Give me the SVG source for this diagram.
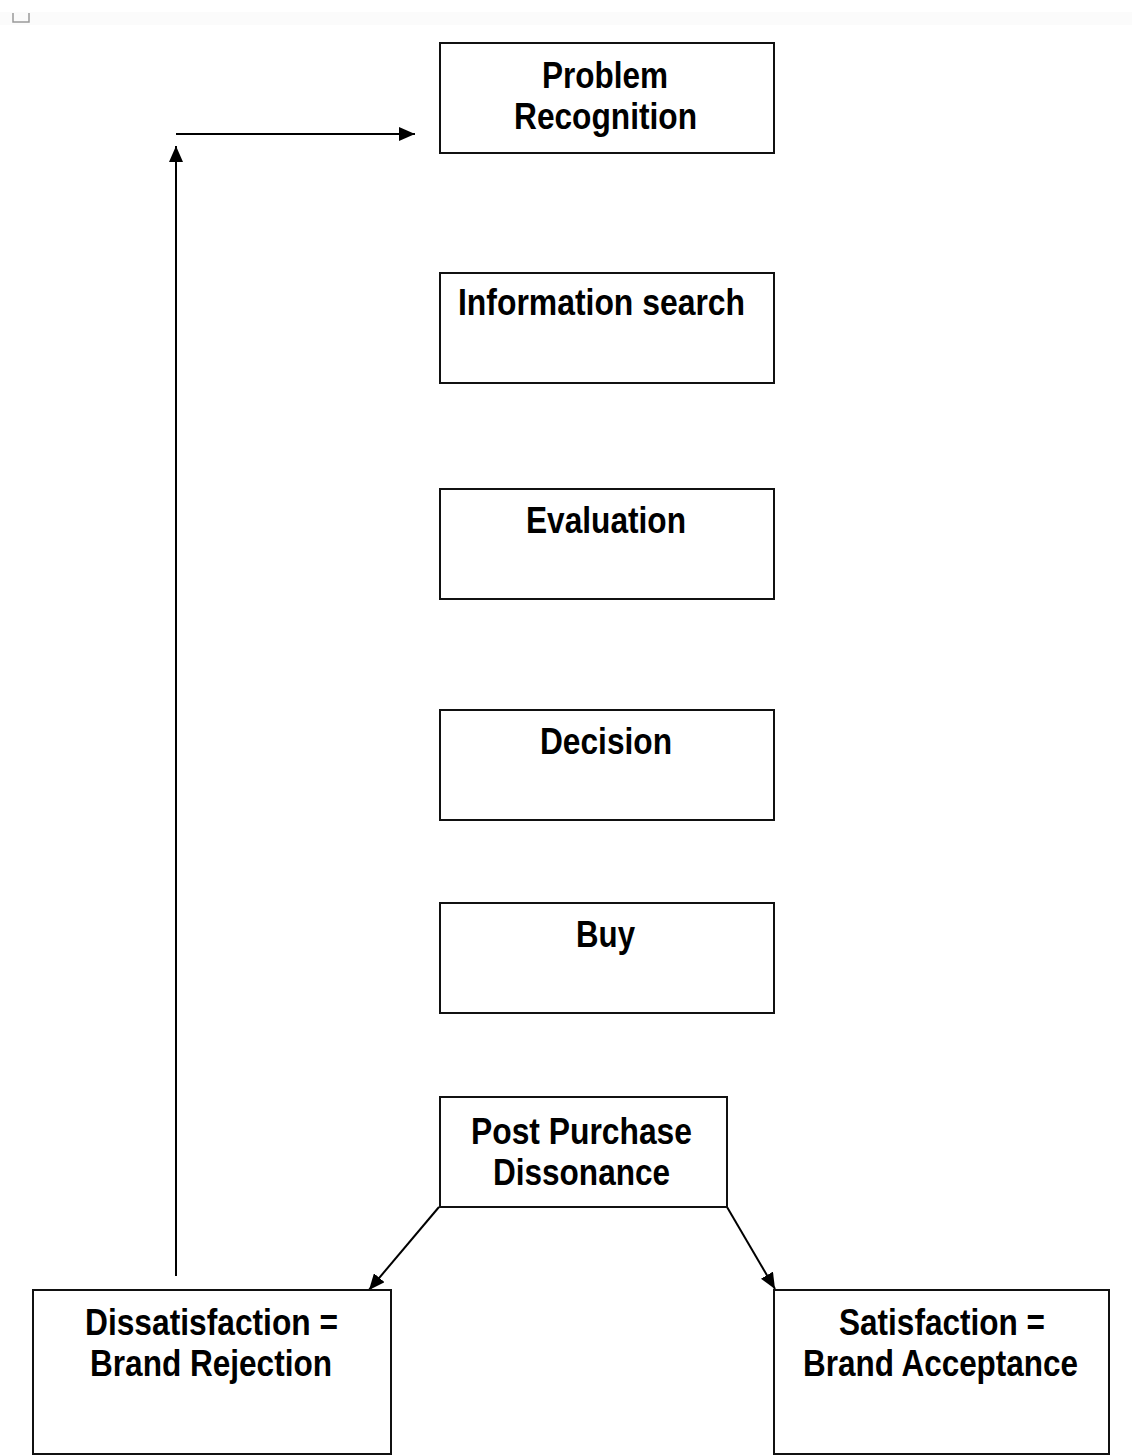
<svg xmlns="http://www.w3.org/2000/svg" width="1132" height="1456" viewBox="0 0 1132 1456">
<style>
  .box { fill: #ffffff; stroke: #111111; stroke-width: 2; }
  .lbl { font-family: "Liberation Sans", Arial, sans-serif; font-weight: bold; font-size: 36px; fill: #000000; }
  .mid { text-anchor: middle; }
  .conn { stroke: #000000; stroke-width: 2; fill: none; }
</style>
<defs>
  <marker id="arrow" viewBox="0 0 16 14" refX="16" refY="7" markerWidth="16" markerHeight="14" markerUnits="userSpaceOnUse" orient="auto">
    <path d="M0,0 L16,7 L0,14 Z" fill="#000000"/>
  </marker>
</defs>
<rect x="0" y="0" width="1132" height="1456" fill="#ffffff"/>
<rect x="0" y="12" width="1132" height="13" fill="#fbfbfb"/>
<path d="M13,13 L13,22 L29,22 L29,13" fill="none" stroke="#9a9a9a" stroke-width="1.5"/>

<g id="connectors">
  <line class="conn" x1="176" y1="1276" x2="176" y2="146" marker-end="url(#arrow)"/>
  <line class="conn" x1="176" y1="134" x2="415" y2="134" marker-end="url(#arrow)"/>
  <line class="conn" x1="439" y1="1207" x2="369" y2="1290" marker-end="url(#arrow)"/>
  <line class="conn" x1="727" y1="1207" x2="775" y2="1289" marker-end="url(#arrow)"/>
</g>

<g id="problem-recognition">
  <rect class="box" x="440" y="43" width="334" height="110"/>
  <text class="lbl mid" x="605" y="88" textLength="126" lengthAdjust="spacingAndGlyphs">Problem</text>
  <text class="lbl mid" x="605.5" y="129" textLength="183" lengthAdjust="spacingAndGlyphs">Recognition</text>
</g>
<g id="information-search">
  <rect class="box" x="440" y="273" width="334" height="110"/>
  <text class="lbl" x="458" y="315" textLength="287" lengthAdjust="spacingAndGlyphs">Information search</text>
</g>
<g id="evaluation">
  <rect class="box" x="440" y="489" width="334" height="110"/>
  <text class="lbl mid" x="606" y="533" textLength="160" lengthAdjust="spacingAndGlyphs">Evaluation</text>
</g>
<g id="decision">
  <rect class="box" x="440" y="710" width="334" height="110"/>
  <text class="lbl mid" x="606" y="754" textLength="132" lengthAdjust="spacingAndGlyphs">Decision</text>
</g>
<g id="buy">
  <rect class="box" x="440" y="903" width="334" height="110"/>
  <text class="lbl mid" x="605.5" y="947" textLength="59" lengthAdjust="spacingAndGlyphs">Buy</text>
</g>
<g id="post-purchase-dissonance">
  <rect class="box" x="440" y="1097" width="287" height="110"/>
  <text class="lbl mid" x="581.5" y="1144" textLength="221" lengthAdjust="spacingAndGlyphs">Post Purchase</text>
  <text class="lbl mid" x="581.5" y="1185" textLength="177" lengthAdjust="spacingAndGlyphs">Dissonance</text>
</g>
<g id="dissatisfaction">
  <rect class="box" x="33" y="1290" width="358" height="164"/>
  <text class="lbl mid" x="211.5" y="1335" textLength="253" lengthAdjust="spacingAndGlyphs">Dissatisfaction =</text>
  <text class="lbl mid" x="211" y="1376" textLength="242" lengthAdjust="spacingAndGlyphs">Brand Rejection</text>
</g>
<g id="satisfaction">
  <rect class="box" x="774" y="1290" width="335" height="164"/>
  <text class="lbl mid" x="942" y="1335" textLength="206" lengthAdjust="spacingAndGlyphs">Satisfaction =</text>
  <text class="lbl mid" x="940.5" y="1376" textLength="275" lengthAdjust="spacingAndGlyphs">Brand Acceptance</text>
</g>
</svg>
